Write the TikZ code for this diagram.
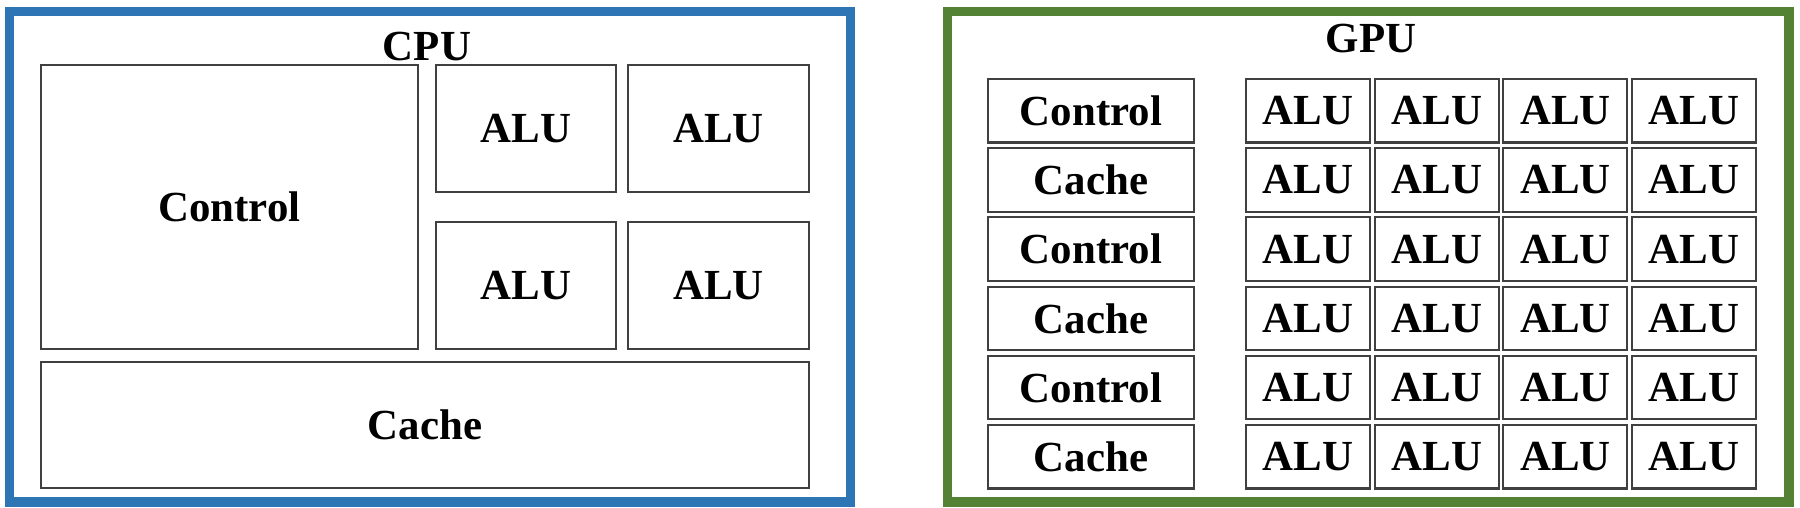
\documentclass[tikz,border=0pt]{standalone}
\usepackage{fontspec}
\setmainfont{Liberation Serif}
\definecolor{cpublue}{RGB}{46,117,182}
\definecolor{gpugreen}{RGB}{84,130,53}
\tikzset{
  part/.style={draw=black!75, line width=0.6pt, inner sep=0pt,
    font=\bfseries\fontsize{12.2}{14}\selectfont},
  title/.style={font=\bfseries\fontsize{12.2}{14}\selectfont},
  frame/.style={line width=2.6pt}
}
\begin{document}
\begin{tikzpicture}
  \useasboundingbox (0,0) rectangle (18,5.08);
  \draw[frame,cpublue] (0.095,0.06) rectangle (8.505,4.965);
  \draw[frame,gpugreen] (9.475,0.06) rectangle (17.89,4.965);
  \node[title] (cpu) at (4.27,4.615) {CPU};
  \node[title] (gpu) at (13.71,4.695) {GPU};

  \node[part,minimum width=3.77cm,minimum height=2.84cm] (control) at (2.295,3.01) {Control};
  \node[part,minimum width=1.8cm,minimum height=1.27cm] (alu1) at (5.26,3.795) {ALU};
  \node[part,minimum width=1.81cm,minimum height=1.27cm] (alu2) at (7.185,3.795) {ALU};
  \node[part,minimum width=1.8cm,minimum height=1.27cm] (alu3) at (5.26,2.225) {ALU};
  \node[part,minimum width=1.81cm,minimum height=1.27cm] (alu4) at (7.185,2.225) {ALU};
  \node[part,minimum width=7.68cm,minimum height=1.26cm] (cache) at (4.25,0.83) {Cache};

  \foreach \r/\name in {0/Control,1/Cache,2/Control,3/Cache,4/Control,5/Cache} {
    \node[part,minimum width=2.06cm,minimum height=0.635cm] (g\r) at (10.91,3.9725-0.692*\r) {\name};
    \foreach \c in {0,...,3}
      \node[part,minimum width=1.24cm,minimum height=0.635cm] (g\r-\c) at (13.08+1.287*\c,3.9725-0.692*\r) {ALU};
  }
\end{tikzpicture}
\end{document}
